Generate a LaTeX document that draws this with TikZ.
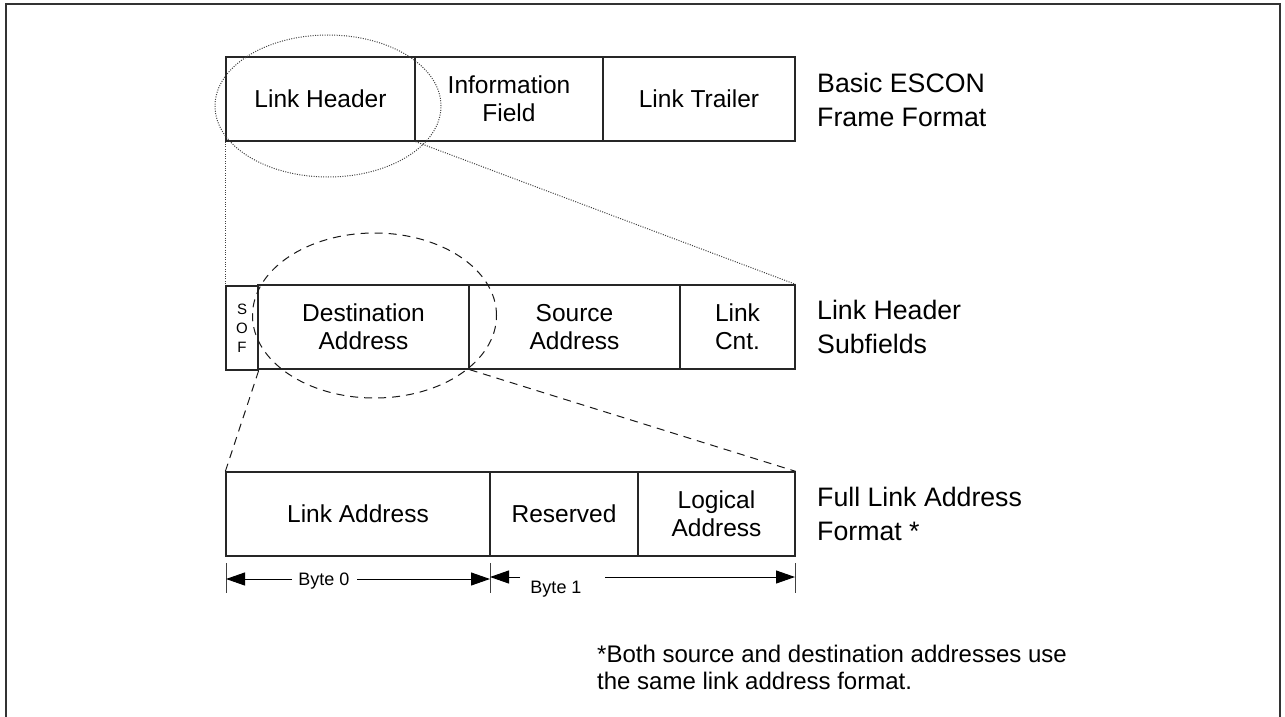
\documentclass[tikz,border=0pt]{standalone}
\usepackage{fontspec}
\setmainfont{Liberation Sans}
\usetikzlibrary{arrows.meta}
\begin{document}
\begin{tikzpicture}[x=1pt,y=-1pt,
  cell/.style={draw=black!85, line width=1.3pt, inner sep=0pt, minimum height=84pt, align=center, font=\fontsize{24.5}{28}\selectfont},
  lbl/.style={anchor=west, inner sep=0pt, align=left, font=\fontsize{26.7}{34}\selectfont},
  fnote/.style={anchor=base west, inner sep=0pt, font=\fontsize{24}{27}\selectfont},
  dotl/.style={dash pattern=on 1pt off 1.4pt, line width=1pt, black!75},
  dashl/.style={dash pattern=on 8pt off 6pt, line width=1pt, black!90},
  tickl/.style={line width=1pt, black!75},
  dimarr/.style={line width=1pt, -{Triangle[length=19pt,width=13pt]}},
  bytel/.style={inner sep=0pt, font=\fontsize{18}{20}\selectfont},
]
\useasboundingbox (0,0) rectangle (1285,717);
% frame
\draw[line width=1.5pt, black!80] (6,717) -- (6,4) -- (1280,4) -- (1280,717);

% row 1
\node[cell, minimum width=189pt] (lh) at (320.5,99) {Link Header};
\node[cell, minimum width=188pt] (if) at (509,99) {Information\\Field};
\node[cell, minimum width=192pt] (lt) at (699,99) {Link Trailer};

% row 2
\node[cell, minimum width=32pt, font=\fontsize{15}{19}\selectfont] (sof) at (242,328) {S\\O\\F};
\node[cell, minimum width=211pt] (da) at (363.5,327) {Destination\\Address};
\node[cell, minimum width=211pt] (sa) at (574.5,327) {Source\\Address};
\node[cell, minimum width=115pt] (lc) at (737.5,327) {Link\\Cnt.};

% row 3
\node[cell, minimum width=264pt] (la) at (358,514) {Link Address};
\node[cell, minimum width=148pt] (rs) at (564,514) {Reserved};
\node[cell, minimum width=157pt] (lg) at (716.5,514) {Logical\\Address};

% labels
\node[lbl] (l1) at (817,100) {Basic ESCON\\Frame Format};
\node[lbl] (l2) at (817,327) {Link Header\\Subfields};
\node[lbl] (l3) at (817,514) {Full Link Address\\Format *};

% zoom ellipses and lines
\draw[dotl] (328,106) ellipse [x radius=113pt, y radius=71pt];
\draw[dotl] (lh.south west) -- (sof.north west);
\draw[dotl] (lh.south east) -- (lc.north east);

\draw[dashl] (374.5,315.5) ellipse [x radius=122pt, y radius=82.5pt];
\draw[dashl] (sof.south east) -- (la.north west);
\draw[dashl] (da.south east) -- (lg.north east);

% byte dimensions
\draw[tickl] (226,563) -- (226,593);
\draw[tickl] (490,563) -- (490,593);
\draw[tickl] (795,563) -- (795,593);
\coordinate (d0) at (226,579);
\coordinate (d1a) at (490,579);
\coordinate (d1b) at (490,577);
\coordinate (d2) at (795,577);
\node[bytel] (b0) at (324,581) {Byte 0};
\node[bytel] (b1) at (556,589) {Byte 1};
\coordinate (b0l) at (292,579);
\coordinate (b0r) at (357,579);
\coordinate (b1l) at (520,577);
\coordinate (b1r) at (605,577);
\draw[dimarr] (b0l) -- (d0);
\draw[dimarr] (b0r) -- (d1a);
\draw[dimarr] (b1l) -- (d1b);
\draw[dimarr] (b1r) -- (d2);

% footnote
\node[fnote] (f1) at (597,662) {*Both source and destination addresses use};
\node[fnote] (f2) at (597,689) {the same link address format.};
\end{tikzpicture}
\end{document}
